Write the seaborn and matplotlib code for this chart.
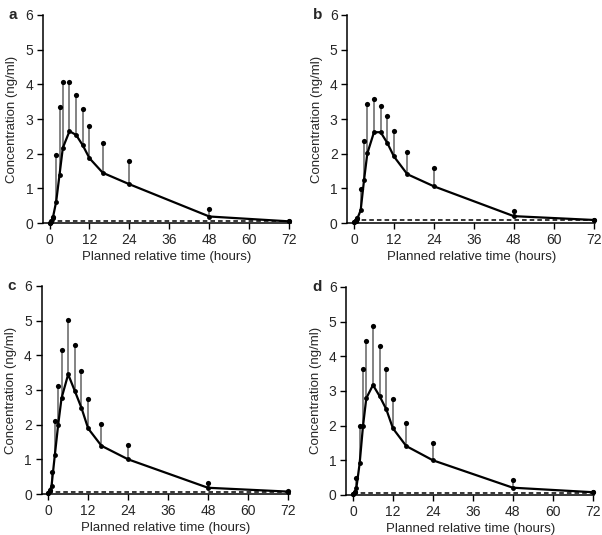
import numpy as np
import pandas as pd
import matplotlib
matplotlib.use('Agg')
import matplotlib.pyplot as plt
import seaborn as sns

# planned sampling times (hours)
times = [0, 0.5, 1, 2, 3, 4, 6, 8, 10, 12, 16, 24, 48, 72]

# mean concentrations (ng/ml) per panel
mean_a = [0.0, 0.04, 0.15, 0.62, 1.39, 2.17, 2.65, 2.54, 2.24, 1.87, 1.45, 1.12, 0.19, 0.05]
mean_b = [0.02, 0.05, 0.13, 0.37, 1.23, 2.01, 2.62, 2.62, 2.31, 1.92, 1.41, 1.06, 0.20, 0.09]
mean_c = [0.02, 0.10, 0.23, 1.13, 2.00, 2.76, 3.45, 2.97, 2.48, 1.89, 1.39, 1.00, 0.18, 0.07]
mean_d = [0.03, 0.08, 0.19, 0.91, 1.98, 2.79, 3.17, 2.85, 2.47, 1.92, 1.41, 1.00, 0.21, 0.08]

# mean + SD (top of the error bars)
upper_a = [0.0, 0.05, 0.18, 1.95, 3.35, 4.08, 4.08, 3.69, 3.28, 2.80, 2.31, 1.78, 0.40, 0.06]
upper_b = [0.02, 0.06, 0.16, 0.98, 2.36, 3.44, 3.58, 3.38, 3.08, 2.65, 2.04, 1.58, 0.36, 0.10]
upper_c = [0.03, 0.12, 0.64, 2.10, 3.12, 4.15, 5.03, 4.31, 3.56, 2.75, 2.01, 1.42, 0.32, 0.08]
upper_d = [0.04, 0.10, 0.48, 2.00, 3.63, 4.45, 4.86, 4.30, 3.63, 2.77, 2.08, 1.50, 0.42, 0.09]

# lower limit of quantification line
lloq = [0.05, 0.08, 0.05, 0.07]

panel_labels = ['a', 'b', 'c', 'd']
x_ticks = [0, 12, 24, 36, 48, 60, 72]
y_ticks = [0, 1, 2, 3, 4, 5, 6]

sns.set_style('ticks')
plt.rcParams['font.family'] = ['Liberation Sans', 'DejaVu Sans']

fig = plt.figure(figsize=(6.02, 5.35), dpi=100)

# axes rectangles in figure fractions
positions = [
    [0.0712, 0.583, 0.412, 0.389],
    [0.5770, 0.583, 0.412, 0.389],
    [0.0690, 0.0766, 0.412, 0.389],
    [0.5753, 0.0748, 0.412, 0.389],
]
means = [mean_a, mean_b, mean_c, mean_d]
uppers = [upper_a, upper_b, upper_c, upper_d]

for i in range(4):
    ax = fig.add_axes(positions[i])
    df = pd.DataFrame({'time': times, 'mean': means[i], 'upper': uppers[i]})

    # SD bars (upper only) with dot caps
    ax.vlines(df['time'], df['mean'], df['upper'], color='#7a7a7a', lw=1.3, zorder=2)
    sns.scatterplot(data=df, x='time', y='upper', ax=ax, color='black', s=14,
                    edgecolor='black', linewidth=0, zorder=3, clip_on=False)

    # mean profile
    sns.lineplot(data=df, x='time', y='mean', ax=ax, color='black', lw=1.6,
                 marker='o', markersize=3.5, markeredgewidth=0, zorder=4, clip_on=False)

    ax.plot([0, 72], [lloq[i], lloq[i]], color='black', lw=1.1, ls=(0, (3, 2)), zorder=1)

    ax.set_xlim(-2, 72.5)
    ax.set_ylim(0, 6)
    ax.set_xticks(x_ticks)
    ax.set_yticks(y_ticks)
    ax.tick_params(labelsize=10, length=4, width=1, color='black', pad=3)
    for s in ['left', 'bottom']:
        ax.spines[s].set_linewidth(1.1)
        ax.spines[s].set_color('black')
    sns.despine(ax=ax)

    ax.set_xlabel('Planned relative time (hours)', fontsize=9.5, labelpad=3)
    ax.set_ylabel('Concentration (ng/ml)', fontsize=9.5, labelpad=5)
    ax.text(-0.12, 1.0, panel_labels[i], transform=ax.transAxes, fontsize=11,
            fontweight='bold', ha='center', va='center')

plt.savefig('out.png', dpi=100)
